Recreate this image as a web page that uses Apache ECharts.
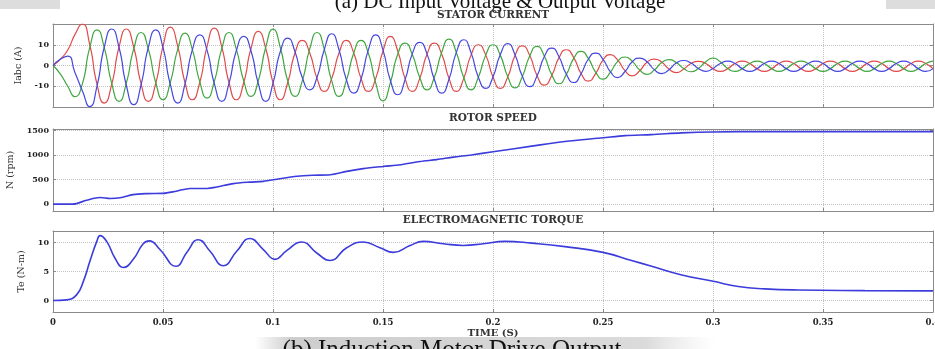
<!DOCTYPE html>
<html>
<head>
<meta charset="utf-8">
<script src="https://cdn.jsdelivr.net/npm/echarts@6/dist/echarts.min.js"></script>
<style>
html,body{margin:0;padding:0;background:#fff;}
#c{width:935px;height:349px;}
</style>
</head>
<body>
<div id="c"></div>
<script>
// ---------- DATA ----------
// sample times of the stator-current traces (ms)
const TIME_MS = [
  0,3.3,6.7,10,13.3,16.7,20,23.3,26.7,30,33.3,36.7,
  40,43.3,46.7,50,53.3,56.7,60,63.3,66.7,70,73.3,76.7,
  80,83.3,86.7,90,93.3,96.7,100,103.3,106.7,110,113.3,116.7,
  120,123.3,126.7,130,133.3,136.7,140,143.3,146.7,150,153.3,156.7,
  160,163.3,166.7,170,173.3,176.7,180,183.3,186.7,190,193.3,196.7,
  200,203.3,206.7,210,213.3,216.7,220,223.3,226.7,230,233.3,236.7,
  240,243.3,246.7,250,253.3,256.7,260,263.3,266.7,270,273.3,276.7,
  280,283.3,286.7,290,293.3,296.7,300,303.3,306.7,310,313.3,316.7,
  320,323.3,326.7,330,333.3,336.7,340,343.3,346.7,350,353.3,356.7,
  360,363.3,366.7,370,373.3,376.7,380,383.3,386.7,390,393.3,396.7,
  400
];
// phase currents Ia (red), Ib (green), Ic (blue) in A
const IA = [
  0,3,7.5,15,20,10,-9,-18.1,-9,8.8,17.6,8.8,
  -8.6,-17.3,-8.6,9.2,18.5,9.2,-8.2,-16.5,-8.2,9,18,9,
  -8.2,-16.5,-8.2,8.2,16.4,8.2,-8.2,-16.5,-8.2,6,12.1,6,
  -6.2,-12.5,-6.2,6,12.1,6,-6.2,-12.5,-6.2,7,14,7,
  -6.2,-12.5,-6.2,5.4,10.8,5.4,-6.2,-12.5,-6.2,5,10,5,
  -5.5,-11,-5.5,4.8,9.5,4.8,-4.8,-9.5,-4.8,3.8,7.6,3.8,
  -3.8,-7.5,-3.8,2.6,5.2,2.6,-2.5,-5,-2.5,1.6,3.1,1.6,
  -1.7,-3.4,-1.7,1,2,1,-1.5,-2.8,-1.5,1,2.1,1,
  -1.5,-2.8,-1.5,1,2.1,1,-1.5,-2.8,-1.5,1,2.1,1,
  -1.5,-2.8,-1.5,1,2.1,1,-1.5,-2.8,-1.5,1,2.1,1,
  -1.5
];
const IB = [
  0,-4,-10,-15,-9,8.6,17.2,8.6,-8.6,-17.3,-8.6,8,
  15.9,8,-8.2,-16.5,-8.2,7.8,15.6,7.8,-7.8,-15.7,-7.8,8,
  15.9,8,-7.4,-14.9,-7.4,8.8,17.5,8.8,-7.4,-14.9,-7.4,8,
  15.9,8,-7.4,-14.9,-7.4,6,12.1,6,-8.5,-17,-8.5,5.4,
  10.8,5.4,-5.8,-11.7,-5.8,6.4,12.7,6.4,-5.8,-11.7,-5.8,5,
  10,5,-5.4,-10.8,-5.4,4.6,9.2,4.6,-4.4,-8.8,-4.4,3.4,
  6.8,3.4,-3.3,-6.6,-3.3,2,4.1,2,-2.2,-4.3,-2.2,1.4,
  2.8,1.4,-1.5,-3,-1.5,1.8,3.6,1.8,-1.5,-2.8,-1.5,1,
  2.1,1,-1.5,-2.8,-1.5,1,2.1,1,-1.5,-2.8,-1.5,1,
  2.1,1,-1.5,-2.8,-1.5,1,2.1,1,-1.5,-2.8,-1.5,1,
  2.1
];
const IC = [
  0,3,4.5,-3.5,-12,-19.8,-9.9,8.8,17.6,8.8,-9.4,-18.9,
  -9.4,8.6,17.2,8.6,-9,-18.1,-9,7.4,14.8,7.4,-8.6,-17.3,
  -8.6,7,14,7,-8.6,-17.3,-8.6,6.6,13.2,6.6,-5.8,-11.7,
  -5.8,7.6,15.3,7.6,-6.6,-13.3,-6.6,7.4,14.8,7.4,-7,-14.1,
  -7,5.6,11.1,5.6,-6.6,-13.3,-6.6,6.2,12.4,6.2,-5.5,-11,
  -5.5,5.2,10.5,5.2,-5.1,-10.2,-5.1,4.2,8.4,4.2,-4.1,-8.2,
  -4.1,3,6,3,-2.9,-5.8,-2.9,1.8,3.6,1.8,-2,-3.9,
  -2,1.2,2.4,1.2,-1.4,-2.8,-1.4,1,2.1,1,-1.5,-2.8,
  -1.5,1,2.1,1,-1.5,-2.8,-1.5,1,2.1,1,-1.5,-2.8,
  -1.5,1,2.1,1,-1.5,-2.8,-1.5,1,2.1,1,-1.5,-2.8,
  -1.5
];
// rotor speed (rpm)
const SPEED_T = [0,0.009,0.0153,0.0214,0.026,0.0305,0.0364,0.0426,0.05,0.056,0.0623,0.07,0.0744,0.082,0.0895,0.0956,0.103,0.111,0.118,0.126,0.1335,0.141,0.15,0.158,0.1668,0.1744,0.182,0.19,0.2,0.2176,0.2327,0.25,0.26,0.272,0.2857,0.3,0.3236,0.35,0.4];
const SPEED_RPM = [0,0,80,135,115,130,195,215,220,265,320,320,350,420,450,465,520,570,590,600,670,725,770,805,870,910,960,1005,1070,1185,1280,1355,1400,1420,1455,1475,1482,1482,1482];
// electromagnetic torque (N-m)
const TORQUE_T = [0,0.0062,0.0108,0.0138,0.0168,0.0199,0.0214,0.0244,0.0282,0.032,0.0365,0.041,0.0438,0.0486,0.056,0.0608,0.066,0.0714,0.0774,0.0835,0.0895,0.0956,0.1009,0.1062,0.113,0.1199,0.1259,0.1335,0.141,0.1486,0.1547,0.1623,0.1683,0.1774,0.1865,0.1955,0.2055,0.2176,0.2327,0.25,0.263,0.2721,0.2858,0.3001,0.3115,0.3236,0.3388,0.369,0.4];
const TORQUE_NM = [0,0.1,1.0,3.3,6.8,10.2,11.2,10.2,7.3,5.7,7.1,9.8,10.3,8.8,5.9,8.3,10.5,8.5,6.0,8.5,10.7,8.8,7.1,8.6,10.1,8.2,6.9,9.1,10.1,9.1,8.3,9.5,10.2,9.8,9.5,9.8,10.2,9.9,9.3,8.3,6.9,5.9,4.4,3.3,2.4,2.0,1.8,1.7,1.65];
// tick values
const CURRENT_TICKS = [-10,0,10];
const SPEED_TICKS = [0,500,1000,1500];
const TORQUE_TICKS = [0,5,10];
const TITLES = ['STATOR CURRENT','ROTOR SPEED','ELECTROMAGNETIC TORQUE'];
const Y_NAMES = ['Iabc (A)','N (rpm)','Te (N-m)'];
const X_NAME = 'TIME (S)';
const CAPTION_TOP = '(a) DC Input Voltage & Output Voltage';
const CAPTION_BOTTOM = '(b) Induction Motor Drive Output';

// ---------- CHART ----------
const chart = echarts.init(document.getElementById('c'));
const LEFT = 53, RIGHT = 2;
const GRIDS = [
  {left:LEFT, right:RIGHT, top:24, height:83, containLabel:false, outerBoundsMode:'none'},
  {left:LEFT, right:RIGHT, top:129, height:82, containLabel:false, outerBoundsMode:'none'},
  {left:LEFT, right:RIGHT, top:231, height:81, containLabel:false, outerBoundsMode:'none'}
];
const Y_RANGES = [[-20,20],[-140,1535],[-2,12]];
const Y_TICKS = [CURRENT_TICKS, SPEED_TICKS, TORQUE_TICKS];
const NAME_GAPS = [25, 24, 20];
const BOX = '#8a8a8a';
const TICKFONT = {color:'#222', fontFamily:'DejaVu Serif', fontWeight:'bold', fontSize:8};

const xAxis = [], yAxis = [];
GRIDS.forEach((g, i) => {
  xAxis.push({
    gridIndex:i, type:'value', min:0, max:0.4, interval:0.05, position:'bottom',
    axisLine:{show:true, onZero:false, lineStyle:{color:BOX, width:1}},
    axisTick:{show:true, inside:true, length:3, lineStyle:{color:BOX}},
    axisLabel:{show:i===2, margin:6, formatter:v => String(+v.toFixed(2)), ...TICKFONT, fontSize:8.5},
    splitLine:{show:true, lineStyle:{type:'dotted', color:'#c4c4c4', width:1}},
    name: i===2 ? X_NAME : '', nameLocation:'middle', nameGap:16,
    nameTextStyle:{color:'#333', fontFamily:'DejaVu Serif', fontWeight:'bold', fontSize:10}
  });
  xAxis.push({
    gridIndex:i, type:'value', min:0, max:0.4, interval:0.05, position:'top',
    axisLine:{show:true, onZero:false, lineStyle:{color:BOX, width:1}},
    axisTick:{show:true, inside:true, length:3, lineStyle:{color:BOX}},
    axisLabel:{show:false}, splitLine:{show:false}
  });
  yAxis.push({
    gridIndex:i, type:'value', min:Y_RANGES[i][0], max:Y_RANGES[i][1], position:'left',
    axisLine:{show:true, onZero:false, lineStyle:{color:BOX, width:1}},
    axisTick:{show:true, inside:true, length:3, customValues:Y_TICKS[i], lineStyle:{color:BOX}},
    axisLabel:{show:true, margin:4, customValues:Y_TICKS[i], formatter:v => String(v), ...TICKFONT},
    splitLine:{show:true, lineStyle:{type:'dotted', color:'#c4c4c4', width:1}},
    name:Y_NAMES[i], nameLocation:'middle', nameRotate:90, nameGap:NAME_GAPS[i],
    nameTextStyle:{color:'#333', fontFamily:'DejaVu Serif', fontSize:9.5}
  });
  yAxis.push({
    gridIndex:i, type:'value', min:Y_RANGES[i][0], max:Y_RANGES[i][1], position:'right',
    axisLine:{show:true, onZero:false, lineStyle:{color:BOX, width:1}},
    axisTick:{show:true, inside:true, length:3, customValues:Y_TICKS[i], lineStyle:{color:BOX}},
    axisLabel:{show:false}, splitLine:{show:false}
  });
});

const pair = (ts, vs, k) => ts.map((t, i) => [t * k, vs[i]]);
const lineSeries = (data, xi, yi, color, w, smooth) => ({
  type:'line', xAxisIndex:xi, yAxisIndex:yi, data, showSymbol:false, symbol:'none',
  smooth, clip:true, lineStyle:{color, width:w}, emphasis:{disabled:true}, z:3
});

const titleTexts = TITLES.map((t, i) => ({
  type:'text', x:493, y:[15, 118, 220][i],
  style:{text:t, x:0, y:0, align:'center', verticalAlign:'middle', textAlign:'center', textVerticalAlign:'middle',
    fill:'#333', font:'bold 10.5px "DejaVu Serif"'}
}));

chart.setOption({
  animation:false,
  backgroundColor:'#fff',
  grid:GRIDS,
  xAxis, yAxis,
  series:[
    lineSeries(pair(TIME_MS, IA, 0.001), 0, 0, '#e04a4a', 1.2, 0.6),
    lineSeries(pair(TIME_MS, IB, 0.001), 0, 0, '#3fa63f', 1.2, 0.6),
    lineSeries(pair(TIME_MS, IC, 0.001), 0, 0, '#4646e0', 1.2, 0.6),
    lineSeries(pair(SPEED_T, SPEED_RPM, 1), 2, 2, '#3c3cdc', 1.6, 0.3),
    lineSeries(pair(TORQUE_T, TORQUE_NM, 1), 4, 4, '#3c3cdc', 1.6, 0.5)
  ],
  graphic:[
    {type:'rect', shape:{x:0, y:0, width:60, height:9}, style:{fill:'#d4d4d4', opacity:0.8}, z:-1},
    {type:'rect', shape:{x:886, y:0, width:49, height:9}, style:{fill:'#d4d4d4', opacity:0.8}, z:-1},
    {type:'rect', shape:{x:255, y:337, width:460, height:12},
      style:{fill:new echarts.graphic.LinearGradient(0,0,1,0,[
        {offset:0, color:'rgba(200,200,200,0)'},{offset:0.08, color:'rgba(200,200,200,0.9)'},
        {offset:0.85, color:'rgba(215,215,215,0.9)'},{offset:1, color:'rgba(230,230,230,0)'}])}, z:-1},
    {type:'text', x:500, y:13, style:{text:CAPTION_TOP, x:0, y:0, align:'center', verticalAlign:'bottom',
      textAlign:'center', textVerticalAlign:'bottom', fill:'#111', font:'21px "Liberation Serif"'}},
    {type:'text', x:452, y:338, style:{text:CAPTION_BOTTOM, x:0, y:0, align:'center', verticalAlign:'top',
      textAlign:'center', textVerticalAlign:'top', fill:'#111', font:'25px "Liberation Serif"'}},
    ...titleTexts
  ]
});
</script>
</body>
</html>
